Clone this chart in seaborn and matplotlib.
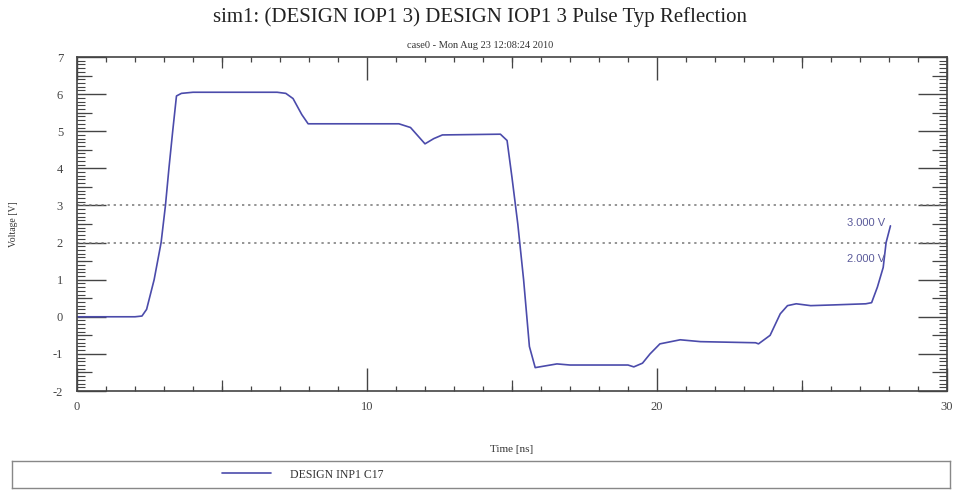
import numpy as np
import pandas as pd
import matplotlib
matplotlib.use("Agg")
import matplotlib.pyplot as plt
from matplotlib.ticker import MultipleLocator, FixedLocator, NullFormatter
import seaborn as sns

# ---- data ----
time_ns = [0.0, 2.0, 2.24, 2.4, 2.66, 2.9, 3.05, 3.17, 3.3, 3.43, 3.6, 4.0,
           6.9, 7.2, 7.45, 7.75, 7.97, 8.3, 11.1, 11.5, 12.0, 12.3, 12.6,
           14.6, 14.83, 15.0, 15.2, 15.4, 15.6, 15.8, 16.1, 16.55, 17.0,
           19.0, 19.2, 19.5, 19.76, 20.1, 20.8, 21.5, 23.4, 23.5, 23.9,
           24.25, 24.5, 24.8, 25.3, 26.1, 27.2, 27.4, 27.6, 27.8, 27.9, 28.05]
voltage = [0.0, 0.0, 0.02, 0.2, 1.0, 2.0, 3.0, 4.0, 5.0, 5.95, 6.02, 6.05,
           6.05, 6.02, 5.88, 5.45, 5.2, 5.2, 5.2, 5.1, 4.66, 4.8, 4.9,
           4.92, 4.75, 3.75, 2.5, 1.0, -0.8, -1.37, -1.33, -1.27, -1.3,
           -1.3, -1.35, -1.25, -1.0, -0.73, -0.62, -0.67, -0.7, -0.73, -0.5,
           0.08, 0.3, 0.35, 0.3, 0.32, 0.35, 0.38, 0.8, 1.33, 2.0, 2.45]
series_name = "DESIGN INP1 C17"
ref_levels = [3.0, 2.0]
ref_labels = ["3.000 V", "2.000 V"]
x_ticks = [0, 10, 20, 30]
y_ticks = [-2, -1, 0, 1, 2, 3, 4, 5, 6, 7]

df = pd.DataFrame({"Time": time_ns, "Voltage": voltage})

sns.set_theme(style="white")
plt.rcParams["font.family"] = ["Liberation Serif", "DejaVu Serif"]

fig = plt.figure(figsize=(9.6, 4.9), dpi=100)
ax = fig.add_axes([77/960, 1-391/490, 870/960, 334/490])

line_color = "#4b4bab"
sns.lineplot(data=df, x="Time", y="Voltage", ax=ax, color=line_color,
             linewidth=1.2, legend=False)

for lvl in ref_levels:
    ax.axhline(lvl, color="#777777", linestyle=(0, (1.5, 2.5)), linewidth=1.1, zorder=1)
ax.text(27.85, 2.53, ref_labels[0], ha="right", va="center", fontsize=8, color="#5a5a9a",
        family=["Liberation Sans", "DejaVu Sans"])
ax.text(27.85, 1.56, ref_labels[1], ha="right", va="center", fontsize=8, color="#5a5a9a",
        family=["Liberation Sans", "DejaVu Sans"])

ax.set_xlim(0, 30)
ax.set_ylim(-2, 7)
ax.xaxis.set_major_locator(FixedLocator(x_ticks))
ax.xaxis.set_minor_locator(MultipleLocator(1))
ax.yaxis.set_major_locator(FixedLocator(y_ticks))
ax.yaxis.set_minor_locator(MultipleLocator(0.1))
ax.set_xticklabels([str(t) for t in x_ticks])
ax.set_yticklabels([str(t) for t in y_ticks])

spine_col = "#444444"
for s in ax.spines.values():
    s.set_color(spine_col)
    s.set_linewidth(1.2)

ax.tick_params(axis="x", which="major", direction="in", length=16.5, width=1.0,
               top=True, bottom=True, color=spine_col, labelsize=9, labelcolor="#444444", pad=7)
ax.tick_params(axis="x", which="minor", direction="in", length=3.6, width=0.9,
               top=True, bottom=True, color=spine_col)
ax.tick_params(axis="y", which="major", direction="in", length=21, width=1.0,
               left=True, right=True, color=spine_col, labelsize=9, labelcolor="#444444", pad=10)
ax.tick_params(axis="y", which="minor", direction="in", length=5.5, width=0.8,
               left=True, right=True, color=spine_col)

# medium tick level via secondary axes
for loc in ("bottom", "top"):
    sec = ax.secondary_xaxis(loc)
    sec.xaxis.set_major_locator(FixedLocator([5, 15, 25]))
    sec.xaxis.set_major_formatter(NullFormatter())
    sec.tick_params(direction="in", length=8, width=0.9, color=spine_col)
    for s in sec.spines.values():
        s.set_visible(False)
for loc in ("left", "right"):
    sec = ax.secondary_yaxis(loc)
    sec.yaxis.set_major_locator(FixedLocator(np.arange(-1.5, 7, 1.0)))
    sec.yaxis.set_major_formatter(NullFormatter())
    sec.tick_params(direction="in", length=11, width=0.9, color=spine_col)
    for s in sec.spines.values():
        s.set_visible(False)

ax.set_xlabel("Time [ns]", fontsize=8, color="#333333", labelpad=23)
ax.set_ylabel("Voltage [V]", fontsize=7, color="#333333", labelpad=25)

fig.text(0.5, 1-17/490, "sim1: (DESIGN IOP1 3) DESIGN IOP1 3 Pulse Typ Reflection",
         ha="center", va="center", fontsize=15, color="#222222")
fig.text(0.5, 1-45/490, "case0 - Mon Aug 23 12:08:24 2010",
         ha="center", va="center", fontsize=7.5, color="#333333")

# legend box
lax = fig.add_axes([12/960, 1-488/490, 938/960, 27/490])
lax.set_xticks([])
lax.set_yticks([])
for s in lax.spines.values():
    s.set_color("#888888")
    s.set_linewidth(1.0)
handle = ax.get_lines()[0]
lax.legend([handle], [series_name], loc="center", bbox_to_anchor=(0.31, 0.5),
           frameon=False, handlelength=4.2, handletextpad=1.6, fontsize=8.5,
           labelcolor="#333333")

fig.savefig("out.png", dpi=100)
